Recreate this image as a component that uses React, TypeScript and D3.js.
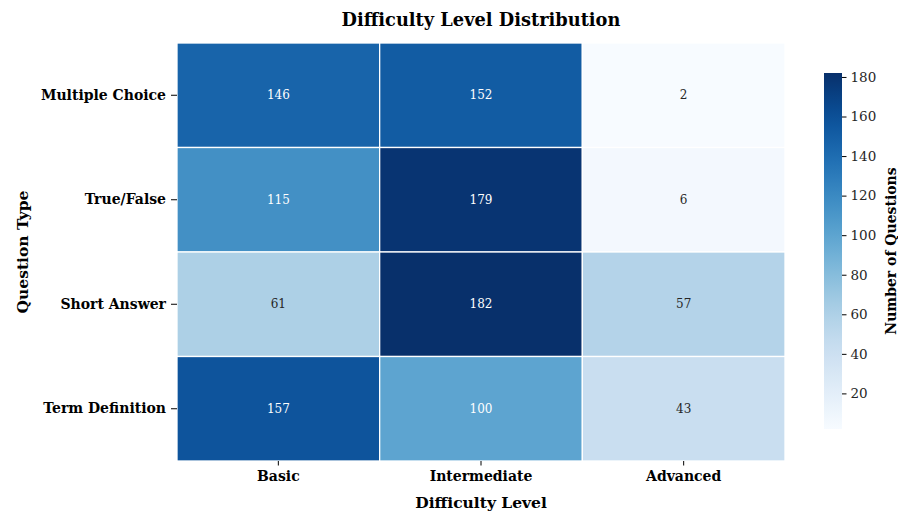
import { useEffect, useRef } from 'react';
import * as d3 from 'd3';

// values
const questionTypes = ['Multiple Choice', 'True/False', 'Short Answer', 'Term Definition'];
const difficultyLevels = ['Basic', 'Intermediate', 'Advanced'];
const counts: number[][] = [
  [146, 152, 2],
  [115, 179, 6],
  [61, 182, 57],
  [157, 100, 43],
];
const colorbarTicks = [20, 40, 60, 80, 100, 120, 140, 160, 180];

const FONT = '"DejaVu Serif", serif';

// seaborn-style pick of annotation colour from cell luminance
const textColorFor = (fill: string) => {
  const c = d3.rgb(fill);
  const lin = (v: number) => {
    const s = v / 255;
    return s <= 0.03928 ? s / 12.92 : Math.pow((s + 0.055) / 1.055, 2.4);
  };
  const lum = 0.2126 * lin(c.r) + 0.7152 * lin(c.g) + 0.0722 * lin(c.b);
  return lum > 0.408 ? '#262626' : '#ffffff';
};

const Heatmap = () => {
  const svgRef = useRef<SVGSVGElement>(null);

  useEffect(() => {
    if (!svgRef.current) return;
    d3.select(svgRef.current).selectAll('*').remove();

    const width = 898;
    const height = 514;
    const plot = { left: 177, top: 43, right: 785, bottom: 461 };

    const svg = d3
      .select(svgRef.current)
      .attr('width', width)
      .attr('height', height)
      .style('display', 'block')
      .style('position', 'absolute')
      .style('left', '0px')
      .style('top', '0px');

    const allValues = counts.flat();
    const vmin = d3.min(allValues)!;
    const vmax = d3.max(allValues)!;
    const color = d3.scaleSequential(d3.interpolateBlues).domain([vmin, vmax]);

    const x = d3
      .scaleBand()
      .domain(difficultyLevels)
      .range([plot.left, plot.right]);
    const y = d3
      .scaleBand()
      .domain(questionTypes)
      .range([plot.top, plot.bottom]);

    const cells = questionTypes.flatMap((q, i) =>
      difficultyLevels.map((d, j) => ({ q, d, v: counts[i][j] }))
    );

    // cells
    svg
      .append('g')
      .selectAll('rect')
      .data(cells)
      .enter()
      .append('rect')
      .attr('x', (c) => x(c.d)!)
      .attr('y', (c) => y(c.q)!)
      .attr('width', x.bandwidth())
      .attr('height', y.bandwidth())
      .attr('fill', (c) => color(c.v))
      .attr('stroke', 'white')
      .attr('stroke-width', 1.3);

    // annotations
    svg
      .append('g')
      .selectAll('text')
      .data(cells)
      .enter()
      .append('text')
      .attr('x', (c) => x(c.d)! + x.bandwidth() / 2)
      .attr('y', (c) => y(c.q)! + y.bandwidth() / 2)
      .attr('dy', '0.35em')
      .attr('text-anchor', 'middle')
      .attr('font-family', FONT)
      .attr('font-size', 12)
      .attr('fill', (c) => textColorFor(color(c.v)))
      .text((c) => c.v);

    // axes
    const xAxis = svg
      .append('g')
      .attr('transform', `translate(0,${plot.bottom})`)
      .call(d3.axisBottom(x).tickSize(4.5).tickPadding(6));
    xAxis.select('.domain').remove();
    xAxis
      .selectAll('.tick text')
      .attr('font-family', FONT)
      .attr('font-size', 14)
      .attr('font-weight', 'bold')
      .attr('fill', '#000');

    const yAxis = svg
      .append('g')
      .attr('transform', `translate(${plot.left},0)`)
      .call(d3.axisLeft(y).tickSize(6).tickPadding(5));
    yAxis.select('.domain').remove();
    yAxis
      .selectAll('.tick text')
      .attr('font-family', FONT)
      .attr('font-size', 14)
      .attr('font-weight', 'bold')
      .attr('fill', '#000');

    // title and axis labels
    svg
      .append('text')
      .attr('x', (plot.left + plot.right) / 2)
      .attr('y', 26)
      .attr('text-anchor', 'middle')
      .attr('font-family', FONT)
      .attr('font-size', 17.8)
      .attr('font-weight', 'bold')
      .text('Difficulty Level Distribution');

    svg
      .append('text')
      .attr('x', (plot.left + plot.right) / 2)
      .attr('y', 508)
      .attr('text-anchor', 'middle')
      .attr('font-family', FONT)
      .attr('font-size', 15.5)
      .attr('font-weight', 'bold')
      .text('Difficulty Level');

    svg
      .append('text')
      .attr('transform', `translate(27.5,${(plot.top + plot.bottom) / 2}) rotate(-90)`)
      .attr('text-anchor', 'middle')
      .attr('font-family', FONT)
      .attr('font-size', 15.5)
      .attr('font-weight', 'bold')
      .text('Question Type');

    // colorbar
    const cb = { left: 824, width: 18, top: 73, bottom: 429 };
    const cbScale = d3.scaleLinear().domain([vmin, vmax]).range([cb.bottom, cb.top]);

    const grad = svg
      .append('defs')
      .append('linearGradient')
      .attr('id', 'cbGrad')
      .attr('x1', 0)
      .attr('y1', 1)
      .attr('x2', 0)
      .attr('y2', 0);
    grad
      .selectAll('stop')
      .data(d3.range(0, 1.0001, 0.05))
      .enter()
      .append('stop')
      .attr('offset', (t) => t)
      .attr('stop-color', (t) => d3.interpolateBlues(t));

    svg
      .append('rect')
      .attr('x', cb.left)
      .attr('y', cb.top)
      .attr('width', cb.width)
      .attr('height', cb.bottom - cb.top)
      .attr('fill', 'url(#cbGrad)');

    const cbAxis = svg
      .append('g')
      .attr('transform', `translate(${cb.left + cb.width},0)`)
      .call(d3.axisRight(cbScale).tickValues(colorbarTicks).tickSize(4.5).tickPadding(4));
    cbAxis.select('.domain').remove();
    cbAxis
      .selectAll('.tick text')
      .attr('font-family', FONT)
      .attr('font-size', 13.5)
      .attr('fill', '#262626');

    svg
      .append('text')
      .attr('transform', `translate(895.5,${(cb.top + cb.bottom) / 2}) rotate(-90)`)
      .attr('text-anchor', 'middle')
      .attr('font-family', FONT)
      .attr('font-size', 14)
      .attr('font-weight', 'bold')
      .text('Number of Questions');
  }, []);

  return <svg ref={svgRef}></svg>;
};

export default function App() {
  return <Heatmap />;
}
